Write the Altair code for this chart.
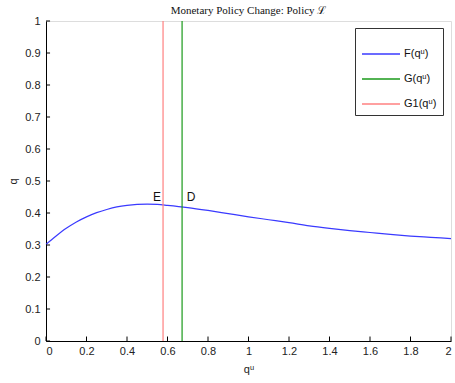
import altair as alt
import pandas as pd

# F curve samples (q^u, q)
qu = [0.0, 0.05, 0.1, 0.15, 0.2, 0.25, 0.3, 0.35, 0.4, 0.45, 0.5, 0.55, 0.6, 0.7,
      0.8, 0.9, 1.0, 1.1, 1.2, 1.3, 1.4, 1.5, 1.6, 1.7, 1.8, 1.9, 2.0]
q = [0.302, 0.328, 0.352, 0.372, 0.388, 0.401, 0.411, 0.419, 0.424, 0.427, 0.428,
     0.427, 0.424, 0.417, 0.408, 0.398, 0.388, 0.379, 0.370, 0.360, 0.352, 0.345,
     0.339, 0.333, 0.328, 0.324, 0.320]

series_names = ["F(q\u1d58)", "G(q\u1d58)", "G1(q\u1d58)"]
series_colors = ["#3a3aff", "#1a9a1a", "#ff8080"]
vert_x = [0.672, 0.578]  # G, G1

point_labels = ["E", "D"]
point_x = [0.548, 0.716]
point_y = [0.45, 0.45]

x_ticks = [0, 0.2, 0.4, 0.6, 0.8, 1.0, 1.2, 1.4, 1.6, 1.8, 2.0]
y_ticks = [0, 0.1, 0.2, 0.3, 0.4, 0.5, 0.6, 0.7, 0.8, 0.9, 1.0]

font = "Liberation Sans, DejaVu Sans"

curve = pd.DataFrame({"x": qu, "y": q, "s": series_names[0]})
verts = pd.DataFrame({"x": vert_x, "s": series_names[1:]})
pts = pd.DataFrame({"x": point_x, "y": point_y, "t": point_labels})
xt = pd.DataFrame({"x": x_ticks})
yt = pd.DataFrame({"y": y_ticks})

xs = alt.Scale(domain=[0, 2], nice=False, zero=False)
ys = alt.Scale(domain=[0, 1], nice=False, zero=False)
color = alt.Color("s:N", scale=alt.Scale(domain=series_names, range=series_colors),
                  legend=alt.Legend(title=None, orient="none", legendX=309, legendY=7,
                                    symbolType="stroke", symbolSize=1444, symbolStrokeWidth=1.5,
                                    fillColor="white", strokeColor="#333",
                                    padding=6, rowPadding=-29, labelFontSize=11,
                                    labelFont=font, labelColor="#111", labelOffset=3))

xaxis = alt.Axis(values=x_ticks, ticks=False, grid=False, domainColor="black",
                 labelFont=font, labelFontSize=11, labelColor="#222", labelPadding=4,
                 labelOverlap=False,
                 title="q\u1d58", titleFont=font, titleFontSize=11, titleFontWeight="normal",
                 titleColor="#222", titlePadding=7,
                 labelExpr="datum.value == 1 || datum.value == 2 || datum.value == 0 ? format(datum.value, 'd') : format(datum.value, '.1f')")
yaxis = alt.Axis(values=y_ticks, ticks=False, grid=False, domainColor="black",
                 labelFont=font, labelFontSize=11, labelColor="#222", labelPadding=6,
                 labelOverlap=False,
                 title="q", titleFont=font, titleFontSize=11, titleFontWeight="normal",
                 titleColor="#222", titlePadding=6,
                 labelExpr="datum.value == 1 || datum.value == 0 ? format(datum.value, 'd') : format(datum.value, '.1f')")

X = lambda: alt.X("x:Q", scale=xs, axis=xaxis)
Y = lambda: alt.Y("y:Q", scale=ys, axis=yaxis)

line = alt.Chart(curve).mark_line(strokeWidth=1.2, interpolate="monotone").encode(
    x=X(), y=Y(), color=color)
rules = alt.Chart(verts).mark_rule(strokeWidth=1.2).encode(x=X(), color=color)
text = alt.Chart(pts).mark_text(font=font, fontSize=12, color="#111").encode(
    x=X(), y=Y(), text="t:N")
xtk = alt.Chart(xt).mark_rule(color="black").encode(
    x=X(), y=alt.YDatum(0, scale=ys, axis=yaxis), y2=alt.Y2Datum(0.014))
ytk = alt.Chart(yt).mark_rule(color="black").encode(
    y=Y(), x=alt.XDatum(0, scale=xs, axis=xaxis), x2=alt.X2Datum(0.02))

chart = alt.layer(line, rules, text, xtk, ytk).properties(
    width=405, height=320,
    title=alt.TitleParams("Monetary Policy Change: Policy \u2112", font="Liberation Serif, DejaVu Serif",
                          fontSize=11, fontWeight="normal", color="#111", anchor="middle", offset=-1),
    autosize=alt.AutoSizeParams(type="none"),
    padding={"left": 46, "top": 21, "right": 4, "bottom": 42},
).configure_view(stroke=None).configure(background="white")

chart.save("out.html", embed_options={"renderer": "svg", "actions": False})
